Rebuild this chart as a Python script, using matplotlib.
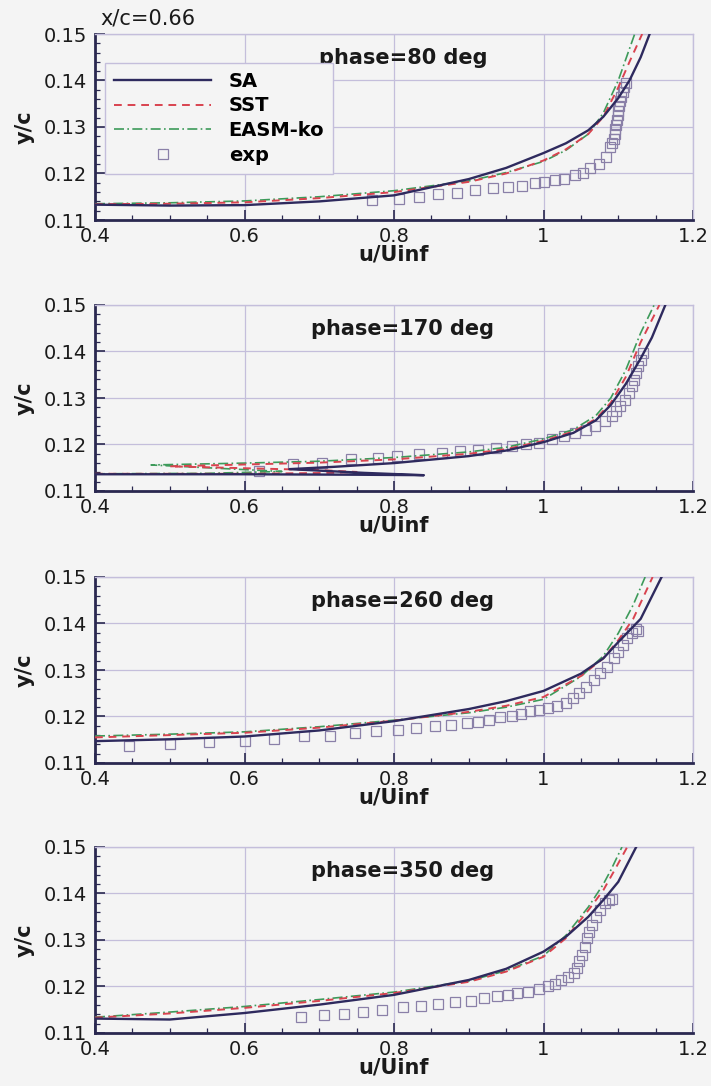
import numpy as np
import matplotlib
matplotlib.use("Agg")
import matplotlib.pyplot as plt
from matplotlib.ticker import MultipleLocator

plt.rcParams['font.family'] = ['DejaVu Sans']

# ---- data (u/Uinf, y/c) ----
phases = ["phase=80 deg", "phase=170 deg", "phase=260 deg", "phase=350 deg"]

# phase = 80
sa80_u = [0.40, 0.50, 0.60, 0.70, 0.80, 0.90, 0.95, 1.00, 1.03, 1.06, 1.08, 1.10, 1.115, 1.13, 1.142]
sa80_y = [0.1133, 0.1131, 0.1132, 0.1140, 0.1153, 0.1188, 0.1212, 0.1244, 0.1265, 0.1293, 0.1322, 0.1362, 0.1400, 0.1450, 0.1500]
sst80_u = [0.40, 0.50, 0.60, 0.70, 0.80, 0.90, 0.95, 1.00, 1.03, 1.06, 1.08, 1.10, 1.115, 1.132]
sst80_y = [0.1134, 0.1135, 0.1138, 0.1147, 0.1160, 0.1182, 0.1200, 0.1228, 0.1252, 0.1285, 0.1322, 0.1385, 0.1440, 0.1500]
easm80_u = [0.40, 0.50, 0.60, 0.70, 0.80, 0.90, 0.95, 1.00, 1.03, 1.06, 1.08, 1.10, 1.122]
easm80_y = [0.1135, 0.1137, 0.1141, 0.1150, 0.1163, 0.1184, 0.1202, 0.1226, 0.1250, 0.1285, 0.1330, 0.1400, 0.1500]
exp80_u = [0.771, 0.807, 0.833, 0.859, 0.884, 0.909, 0.932, 0.953, 0.971, 0.988, 1.001, 1.015, 1.028, 1.042,
           1.053, 1.062, 1.074, 1.083, 1.089, 1.092, 1.094, 1.095, 1.096, 1.097, 1.098, 1.099, 1.100, 1.101,
           1.102, 1.104, 1.106, 1.108, 1.110]
exp80_y = [0.1143, 0.1146, 0.1150, 0.1155, 0.1159, 0.1164, 0.1168, 0.1171, 0.1173, 0.1179, 0.1182, 0.1186,
           0.1189, 0.1196, 0.1201, 0.1211, 0.1221, 0.1236, 0.1257, 0.1265, 0.1275, 0.1285, 0.1295, 0.1305,
           0.1315, 0.1325, 0.1335, 0.1345, 0.1355, 0.1365, 0.1375, 0.1385, 0.1395]

# phase = 170
sa170_u = [0.40, 0.60, 0.75, 0.84, 0.76, 0.66, 0.72, 0.80, 0.90, 0.95, 1.00, 1.04, 1.07, 1.09, 1.11, 1.13, 1.145, 1.163]
sa170_y = [0.1136, 0.1136, 0.1135, 0.1134, 0.1139, 0.1147, 0.1152, 0.1160, 0.1175, 0.1187, 0.1205, 0.1225, 0.1252,
           0.1285, 0.1330, 0.1385, 0.1430, 0.1500]
sst170_u = [0.40, 0.60, 0.72, 0.75, 0.70, 0.60, 0.50, 0.60, 0.70, 0.80, 0.90, 0.95, 1.00, 1.04, 1.07, 1.09, 1.11,
            1.13, 1.155]
sst170_y = [0.1137, 0.1137, 0.1139, 0.1141, 0.1145, 0.1149, 0.1153, 0.1157, 0.1161, 0.1168, 0.1180, 0.1190, 0.1208,
            0.1228, 0.1255, 0.1290, 0.1345, 0.1420, 0.1500]
easm170_u = [0.40, 0.55, 0.65, 0.55, 0.475, 0.60, 0.70, 0.80, 0.90, 0.95, 1.00, 1.04, 1.07, 1.09, 1.11, 1.13, 1.148]
easm170_y = [0.1137, 0.1138, 0.1142, 0.1150, 0.1156, 0.1160, 0.1164, 0.1172, 0.1184, 0.1194, 0.1212, 0.1232, 0.1262,
             0.1300, 0.1360, 0.1440, 0.1500]
exp170_u = [0.619, 0.665, 0.704, 0.743, 0.779, 0.804, 0.834, 0.864, 0.888, 0.912, 0.937, 0.958, 0.976, 0.994, 1.012,
            1.027, 1.042, 1.057, 1.069, 1.082, 1.091, 1.097, 1.103, 1.109, 1.115, 1.118, 1.121, 1.124, 1.127, 1.130,
            1.133]
exp170_y = [0.1143, 0.1157, 0.1161, 0.1168, 0.1171, 0.1175, 0.1179, 0.1182, 0.1186, 0.1189, 0.1193, 0.1196, 0.1200,
            0.1204, 0.1211, 0.1218, 0.1225, 0.1232, 0.1239, 0.1250, 0.1261, 0.1271, 0.1282, 0.1296, 0.1311, 0.1325,
            0.1339, 0.1354, 0.1368, 0.1382, 0.1396]

# phase = 260
sa260_u = [0.40, 0.50, 0.60, 0.70, 0.80, 0.90, 0.95, 1.00, 1.05, 1.08, 1.10, 1.13, 1.158]
sa260_y = [0.1147, 0.1151, 0.1157, 0.1170, 0.1190, 0.1216, 0.1233, 0.1255, 0.1292, 0.1325, 0.1360, 0.1410, 0.1500]
sst260_u = [0.40, 0.50, 0.60, 0.70, 0.80, 0.90, 0.95, 1.00, 1.05, 1.08, 1.10, 1.12, 1.146]
sst260_y = [0.1155, 0.1160, 0.1165, 0.1176, 0.1191, 0.1210, 0.1223, 0.1242, 0.1287, 0.1325, 0.1364, 0.1410, 0.1500]
easm260_u = [0.40, 0.50, 0.60, 0.70, 0.80, 0.90, 0.95, 1.00, 1.05, 1.08, 1.10, 1.12, 1.136]
easm260_y = [0.1158, 0.1162, 0.1167, 0.1178, 0.1192, 0.1208, 0.1220, 0.1237, 0.1286, 0.1330, 0.1379, 0.1440, 0.1500]
exp260_u = [0.445, 0.500, 0.552, 0.600, 0.639, 0.679, 0.715, 0.748, 0.776, 0.806, 0.830, 0.855, 0.876, 0.897, 0.912,
            0.927, 0.942, 0.958, 0.970, 0.982, 0.994, 1.006, 1.018, 1.030, 1.039, 1.048, 1.057, 1.067, 1.076, 1.085,
            1.094, 1.100, 1.106, 1.112, 1.118, 1.124, 1.127]
exp260_y = [0.1136, 0.1141, 0.1145, 0.1148, 0.1152, 0.1157, 0.1159, 0.1164, 0.1168, 0.1171, 0.1175, 0.1179, 0.1182,
            0.1186, 0.1189, 0.1193, 0.1198, 0.1201, 0.1206, 0.1211, 0.1214, 0.1218, 0.1223, 0.1230, 0.1239, 0.1250,
            0.1264, 0.1279, 0.1293, 0.1307, 0.1325, 0.1339, 0.1354, 0.1368, 0.1380, 0.1389, 0.1384]

# phase = 350
sa350_u = [0.40, 0.50, 0.60, 0.70, 0.80, 0.90, 0.95, 1.00, 1.03, 1.06, 1.08, 1.10, 1.124]
sa350_y = [0.1131, 0.1129, 0.1143, 0.1161, 0.1182, 0.1214, 0.1238, 0.1275, 0.1307, 0.1350, 0.1386, 0.1425, 0.1500]
sst350_u = [0.40, 0.50, 0.60, 0.70, 0.80, 0.90, 0.95, 1.00, 1.03, 1.06, 1.08, 1.095, 1.112]
sst350_y = [0.1133, 0.1142, 0.1154, 0.1169, 0.1186, 0.1210, 0.1232, 0.1264, 0.1304, 0.1364, 0.1407, 0.1450, 0.1500]
easm350_u = [0.40, 0.50, 0.60, 0.70, 0.80, 0.90, 0.95, 1.00, 1.03, 1.06, 1.08, 1.09, 1.105]
easm350_y = [0.1134, 0.1145, 0.1157, 0.1172, 0.1188, 0.1212, 0.1234, 0.1266, 0.1310, 0.1371, 0.1420, 0.1450, 0.1500]
exp350_u = [0.676, 0.706, 0.733, 0.758, 0.784, 0.812, 0.836, 0.859, 0.882, 0.903, 0.920, 0.938, 0.952, 0.965, 0.979,
            0.994, 1.006, 1.015, 1.024, 1.033, 1.041, 1.045, 1.048, 1.052, 1.055, 1.058, 1.061, 1.065, 1.070, 1.076,
            1.082, 1.087, 1.091]
exp350_y = [0.1134, 0.1139, 0.1141, 0.1145, 0.1149, 0.1155, 0.1157, 0.1162, 0.1166, 0.1169, 0.1175, 0.1179, 0.1182,
            0.1186, 0.1189, 0.1194, 0.1200, 0.1206, 0.1214, 0.1221, 0.1230, 0.1239, 0.1254, 0.1268, 0.1286, 0.1304,
            0.1318, 0.1332, 0.1350, 0.1364, 0.1379, 0.1386, 0.1389]

xticks = [0.4, 0.6, 0.8, 1.0, 1.2]
xticklabels = ["0.4", "0.6", "0.8", "1", "1.2"]
yticks = [0.11, 0.12, 0.13, 0.14, 0.15]
yticklabels = ["0.11", "0.12", "0.13", "0.14", "0.15"]

paneles = [
    (sa80_u, sa80_y, sst80_u, sst80_y, easm80_u, easm80_y, exp80_u, exp80_y),
    (sa170_u, sa170_y, sst170_u, sst170_y, easm170_u, easm170_y, exp170_u, exp170_y),
    (sa260_u, sa260_y, sst260_u, sst260_y, easm260_u, easm260_y, exp260_u, exp260_y),
    (sa350_u, sa350_y, sst350_u, sst350_y, easm350_u, easm350_y, exp350_u, exp350_y),
]

# ---- style ----
fondo = "#f4f4f4"
c_sa = "#2e2a5e"
c_sst = "#d9434f"
c_easm = "#3d9a5a"
c_exp = "#8a80a8"
c_grid = "#c4bedb"
c_eje = "#2a2850"

fig = plt.figure(figsize=(7.11, 10.86), dpi=100, facecolor=fondo)

left, width, height = 95 / 711, 598 / 711, 186 / 1086
bottoms = [1 - 220 / 1086, 1 - 491 / 1086, 1 - 763 / 1086, 1 - 1033 / 1086]

for k, (sa_u, sa_y, sst_u, sst_y, ea_u, ea_y, ex_u, ex_y) in enumerate(paneles):
    ax = fig.add_axes([left, bottoms[k], width, height], facecolor=fondo)

    ax.plot(ex_u, ex_y, linestyle='none', marker='s', markersize=7, markerfacecolor='none',
            markeredgecolor=c_exp, markeredgewidth=0.9, label='exp', zorder=2)
    ax.plot(ea_u, ea_y, color=c_easm, lw=1.2, dashes=(6, 2, 1, 2), label='EASM-ko', zorder=3)
    ax.plot(sst_u, sst_y, color=c_sst, lw=1.4, dashes=(4, 3), label='SST', zorder=4)
    ax.plot(sa_u, sa_y, color=c_sa, lw=1.7, label='SA', zorder=5)

    ax.set_xlim(0.4, 1.2)
    ax.set_ylim(0.11, 0.15)
    ax.set_xticks(xticks)
    ax.set_xticklabels(xticklabels)
    ax.set_yticks(yticks)
    ax.set_yticklabels(yticklabels)
    ax.xaxis.set_minor_locator(MultipleLocator(0.05))
    ax.yaxis.set_minor_locator(MultipleLocator(0.002))
    ax.tick_params(which='major', direction='in', length=7, width=1.2, color=c_eje,
                   labelsize=14, labelcolor='#1a1a1a', top=False, right=False)
    ax.tick_params(axis='x', which='major', pad=5)
    ax.tick_params(axis='y', which='major', pad=6)
    ax.tick_params(which='minor', direction='in', length=3.5, width=0.9, color=c_eje, top=False, right=False)
    ax.grid(True, which='major', color=c_grid, lw=0.9)

    for lado in ['left', 'bottom']:
        ax.spines[lado].set_color(c_eje)
        ax.spines[lado].set_linewidth(2.0)
    for lado in ['top', 'right']:
        ax.spines[lado].set_color(c_grid)
        ax.spines[lado].set_linewidth(1.0)

    ax.set_xlabel("u/Uinf", fontsize=15, fontweight='bold', color='#1a1a1a')
    ax.set_ylabel("y/c", fontsize=15, fontweight='bold', color='#1a1a1a')
    ax.xaxis.set_label_coords(0.5, -0.13)
    ax.yaxis.set_label_coords(-0.10, 0.5)

    ax.text(0.515, 0.87, phases[k], transform=ax.transAxes, ha='center', va='center',
            fontsize=15, fontweight='bold', color='#1a1a1a')

    if k == 0:
        h, l = ax.get_legend_handles_labels()
        orden = [3, 2, 1, 0]
        leg = ax.legend([h[i] for i in orden], [l[i] for i in orden], loc='upper left',
                        bbox_to_anchor=(0.017, 0.845), borderaxespad=0, fancybox=False,
                        handlelength=5.0, handletextpad=0.9, labelspacing=0.3, borderpad=0.45,
                        prop={'size': 14, 'weight': 'bold'}, facecolor=fondo, edgecolor=c_grid,
                        framealpha=1.0)
        leg.get_frame().set_linewidth(1.0)

fig.text(100 / 711, 1 - 18 / 1086, "x/c=0.66", fontsize=15, ha='left', va='center', color='#1a1a1a')

plt.savefig("out.png", dpi=100, facecolor=fondo)
plt.close()
